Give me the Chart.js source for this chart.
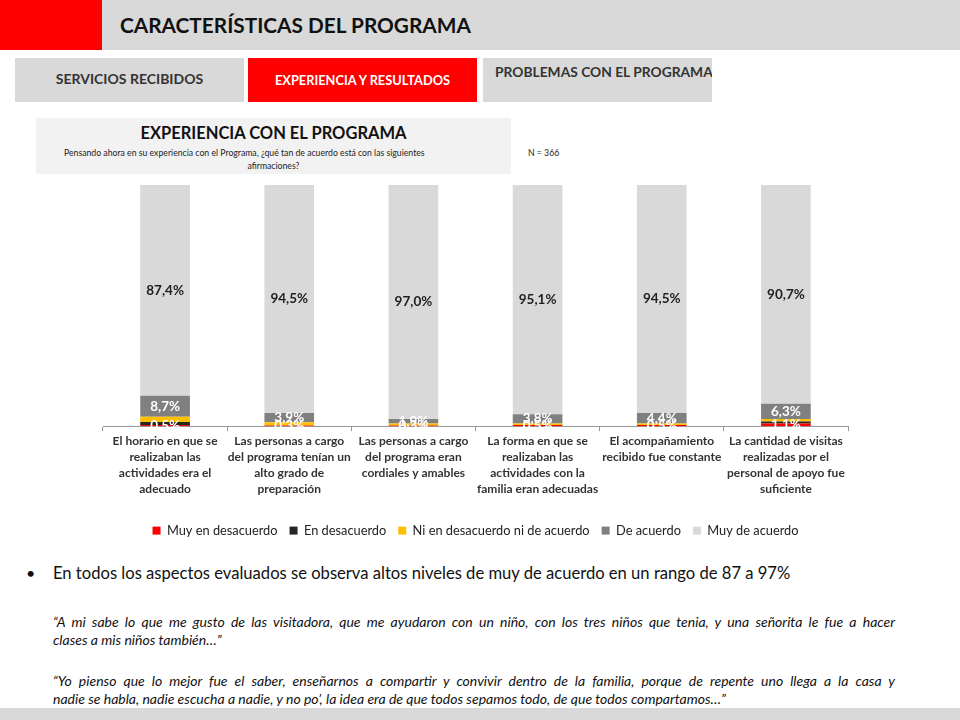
<!DOCTYPE html>
<html>
<head>
<meta charset="utf-8">
<script src="https://cdn.jsdelivr.net/npm/chart.js@4/dist/chart.umd.min.js"></script>
<style>
  body { margin: 0; width: 960px; height: 720px; position: relative; background: #fff; font-family: Lato, "Open Sans", sans-serif; overflow: hidden; }
  .abs { position: absolute; }
  .band { left: 0; top: 0; width: 960px; height: 50px; background: #d9d9d9; }
  .redbox { left: 0; top: 0; width: 102px; height: 50px; background: #ff0000; }
  .title { left: 120px; top: 12px; font-size: 20.8px; font-weight: bold; color: #111; }
  .tab { top: 58px; height: 44px; width: 229px; background: #d9d9d9; font-weight: bold; color: #333; overflow: hidden; }
  .boxtitle { left: 36px; top: 118px; width: 475px; height: 56px; background: #f2f2f2; }
  .quote { left: 53px; width: 842px; font-size: 14px; font-style: italic; line-height: 18px; color: #111; white-space: nowrap; }
  .just { text-align: justify; text-align-last: justify; white-space: normal; }
</style>
</head>
<body>
<div class="abs band"></div>
<div class="abs redbox"></div>
<div class="abs title">CARACTERÍSTICAS DEL PROGRAMA</div>

<div class="abs tab" style="left:15px;"><div style="position:absolute;left:0;width:229px;text-align:center;top:12px;font-size:14px;">SERVICIOS RECIBIDOS</div></div>
<div class="abs tab" style="left:248px;background:#ff0000;color:#fff;"><div style="position:absolute;left:0;width:229px;text-align:center;top:14px;font-size:12.8px;">EXPERIENCIA Y RESULTADOS</div></div>
<div class="abs tab" style="left:483px;"><div style="position:absolute;left:12px;top:5px;font-size:13.8px;white-space:nowrap;">PROBLEMAS CON EL PROGRAMA</div></div>

<div class="abs boxtitle">
  <div style="position:absolute;left:0;width:475px;text-align:center;top:5px;font-size:16.5px;font-weight:bold;color:#111;">EXPERIENCIA CON EL PROGRAMA</div>
  <div style="position:absolute;left:28px;top:29px;font-size:8.7px;color:#222;white-space:nowrap;">Pensando ahora en su experiencia con el Programa, ¿qué tan de acuerdo está con las siguientes</div>
  <div style="position:absolute;left:0;width:475px;text-align:center;top:42px;font-size:8.7px;color:#222;">afirmaciones?</div>
</div>
<div class="abs" style="left:528px;top:147px;font-size:8.7px;color:#222;">N = 366</div>

<canvas id="chart" class="abs" style="left:0;top:180px;" width="960" height="367"></canvas>

<div class="abs" style="left:26px;top:563px;font-size:16px;color:#111;">•</div>
<div class="abs" style="left:53px;top:563px;font-size:16.6px;color:#111;white-space:nowrap;">En todos los aspectos evaluados se observa altos niveles de muy de acuerdo en un rango de 87 a 97%</div>

<div class="abs quote just" style="top:613px;">“A mi sabe lo que me gusto de las visitadora, que me ayudaron con un niño, con los tres niños que tenia, y una señorita le fue a hacer</div>
<div class="abs quote" style="top:631px;">clases a mis niños también…”</div>
<div class="abs quote just" style="top:672px;">“Yo pienso que lo mejor fue el saber, enseñarnos a compartir y convivir dentro de la familia, porque de repente uno llega a la casa y</div>
<div class="abs quote" style="top:690px;">nadie se habla, nadie escucha a nadie, y no po’, la idea era de que todos sepamos todo, de que todos compartamos…”</div>

<div class="abs" style="left:0;top:708px;width:960px;height:12px;background:#d9d9d9;"></div>

<script>
const categories = [
  ["El horario en que se", "realizaban las", "actividades era el", "adecuado"],
  ["Las personas a cargo", "del programa tenían un", "alto grado de", "preparación"],
  ["Las personas a cargo", "del programa eran", "cordiales y amables"],
  ["La forma en que se", "realizaban las", "actividades con la", "familia eran adecuadas"],
  ["El acompañamiento", "recibido fue constante"],
  ["La cantidad de visitas", "realizadas por el", "personal de apoyo fue", "suficiente"]
];
const muyDesacuerdo = [0.5, 0.3, 0.3, 0.5, 0.5, 1.1];
const enDesacuerdo = [1.2, 0.0, 0.0, 0.0, 0.0, 0.8];
const niNi = [2.2, 1.3, 0.8, 0.6, 0.6, 1.1];
const deAcuerdo = [8.7, 3.9, 1.9, 3.8, 4.4, 6.3];
const muyDeAcuerdo = [87.4, 94.5, 97.0, 95.1, 94.5, 90.7];

const fmt = v => v.toFixed(1).replace(".", ",") + "%";

// etiquetas dentro de los segmentos
const segmentLabels = {
  id: "segmentLabels",
  afterDatasetsDraw(chart) {
    const ctx = chart.ctx;
    ctx.save();
    ctx.textAlign = "center";
    ctx.textBaseline = "middle";
    ctx.font = "bold 13.5px Lato, 'Open Sans', sans-serif";
    [0, 3, 4].forEach((di) => {
      const meta = chart.getDatasetMeta(di);
      const ds = chart.data.datasets[di];
      meta.data.forEach((bar, i) => {
        const v = ds.data[i];
        if (!v) return;
        const y = (bar.y + bar.base) / 2;
        ctx.fillStyle = di === 4 ? "#1f1f1f" : "#ffffff";
        ctx.fillText(fmt(v), bar.x, y);
      });
    });
    ctx.restore();
  }
};

const ctx = document.getElementById("chart").getContext("2d");
new Chart(ctx, {
  type: "bar",
  data: {
    labels: categories,
    datasets: [
      { label: "Muy en desacuerdo", data: muyDesacuerdo, backgroundColor: "#ff0000" },
      { label: "En desacuerdo", data: enDesacuerdo, backgroundColor: "#262626" },
      { label: "Ni en desacuerdo ni de acuerdo", data: niNi, backgroundColor: "#ffc000" },
      { label: "De acuerdo", data: deAcuerdo, backgroundColor: "#808080" },
      { label: "Muy de acuerdo", data: muyDeAcuerdo, backgroundColor: "#d9d9d9" }
    ]
  },
  options: {
    responsive: false,
    animation: false,
    layout: { padding: { left: 103, right: 112, top: 5, bottom: 0 } },
    datasets: { bar: { barPercentage: 0.4, categoryPercentage: 1.0 } },
    plugins: {
      tooltip: { enabled: false },
      legend: {
        position: "bottom",
        // título vacío = espacio extra sobre la leyenda
        title: { display: true, text: " ", padding: 0, font: { size: 11 } },
        labels: {
          boxWidth: 8,
          boxHeight: 8,
          padding: 12,
          color: "#222",
          font: { size: 12.8, family: "Lato, 'Open Sans', sans-serif" }
        }
      }
    },
    scales: {
      x: {
        stacked: true,
        grid: { drawOnChartArea: false, tickLength: 5, color: "#999" },
        border: { color: "#999" },
        ticks: {
          color: "#333",
          maxRotation: 0,
          autoSkip: false,
          padding: 2,
          font: { size: 12, weight: "bold", family: "Lato, 'Open Sans', sans-serif", lineHeight: 1.33 }
        }
      },
      y: {
        stacked: true,
        display: false,
        min: 0,
        max: 100
      }
    }
  },
  plugins: [segmentLabels]
});
</script>
</body>
</html>
